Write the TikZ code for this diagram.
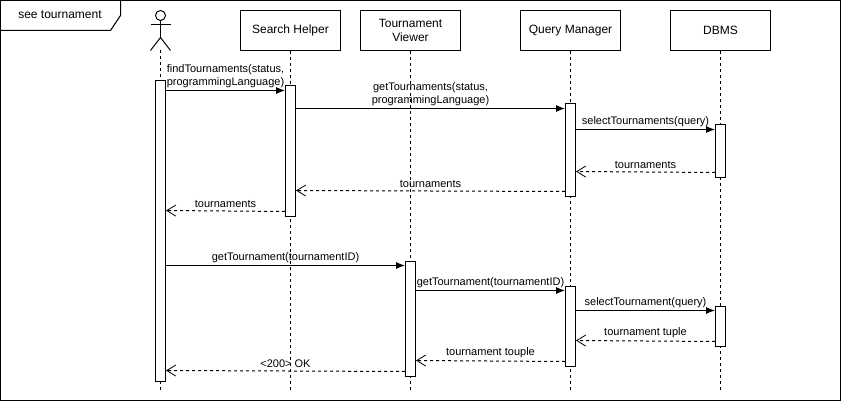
\documentclass[tikz,border=0pt]{standalone}
\usepackage{fontspec}
\setmainfont{Liberation Sans}
\usepackage{xcolor}
\usepackage{tikz}
\usetikzlibrary{arrows.meta}

\begin{document}
\begin{tikzpicture}[
    x=1pt, y=-1pt,
    line width=1pt,
    % Participant boxes along the top
    party/.style={
        draw=black,
        fill=white,
        minimum width=100pt,
        minimum height=40pt,
        inner sep=0pt,
        align=center,
        font=\fontsize{12}{14}\selectfont
    },
    % Activation bars sit on top of the lifelines
    bar/.style={
        draw=black,
        fill=white,
        minimum width=10pt,
        inner sep=0pt,
        anchor=north
    },
    lifeline/.style={dashed, dash pattern=on 3pt off 3pt},
    call/.style={-{Latex[length=9pt,width=7pt]}},
    reply/.style={lifeline, -{Straight Barb[length=9pt,width=11pt,line width=0.8pt]}},
    msg/.style={font=\fontsize{11}{13}\selectfont, align=center, inner sep=0pt, outer sep=0pt, above=3pt, midway}
]
    \useasboundingbox (0,0) rectangle (841,401);

    % --- OUTER FRAME AND TAG ---
    \draw (0.5,0.5) rectangle (840.5,400.5);
    \draw (0.5,30.5) -- (110.5,30.5) -- (120.5,15.5) -- (120.5,0.5);
    \node(tagLabel)[font=\fontsize{12}{14}\selectfont] at (60,15) {see tournament};

    % --- PARTICIPANTS ---
    \node(actorHead)[draw, circle, minimum size=10pt, inner sep=0pt] at (160.5,15.5) {};
    \coordinate(actorNeck) at (160.5,37.5);
    \coordinate(actorFoot) at (160.5,50.5);
    \draw (actorHead.south) -- (actorNeck);
    \draw (150.5,24.5) -- (170.5,24.5);
    \draw (150.5,50.5) -- (actorNeck) -- (170.5,50.5);

    \node(helper)[party] at (290.5,30.5) {Search Helper};
    \node(viewer)[party] at (410.5,30.5) {Tournament\\Viewer};
    \node(manager)[party] at (570.5,30.5) {Query Manager};
    \node(dbms)[party] at (720.5,30.5) {DBMS};

    % Lifelines run down to the foot of the frame
    \draw[lifeline] (actorFoot) -- (160.5,390);
    \foreach \p in {helper, viewer, manager, dbms} {
        \coordinate(\p-end) at ([yshift=-340pt]\p.south);
        \draw[lifeline] (\p.south) -- (\p-end);
    }

    % --- ACTIVATION BARS: name/x/top/height ---
    \foreach \n/\x/\t/\h in {
        user/160.5/80.5/300,
        helper1/290.5/85.5/130,
        manager1/570.5/103.5/92,
        dbms1/720.5/124.5/53,
        viewer1/410.5/260.5/115,
        manager2/570.5/285.5/80,
        dbms2/720.5/305.5/40
    } {
        \node(bar-\n)[bar, minimum height=\h pt] at (\x,\t) {};
    }

    % --- SEARCH ---
    \draw[call] ([yshift=-10pt]bar-user.north east) -- ([yshift=-5pt]bar-helper1.north west)
        node[msg] {findTournaments(status,\\programmingLanguage)};
    \draw[call] ([yshift=-23pt]bar-helper1.north east) -- ([yshift=-5pt]bar-manager1.north west)
        node[msg] {getTournaments(status,\\programmingLanguage)};
    \draw[call] ([yshift=-26pt]bar-manager1.north east) -- ([yshift=-5pt]bar-dbms1.north west)
        node[msg] {selectTournaments(query)};
    \draw[reply] ([yshift=6pt]bar-dbms1.south west) -- ([yshift=-68pt]bar-manager1.north east)
        node[msg] {tournaments};
    \draw[reply] ([yshift=5pt]bar-manager1.south west) -- ([yshift=-105pt]bar-helper1.north east)
        node[msg] {tournaments};
    \draw[reply] ([yshift=5pt]bar-helper1.south west) -- ([yshift=-130pt]bar-user.north east)
        node[msg] {tournaments};

    % --- DETAILS ---
    \draw[call] ([yshift=-185pt]bar-user.north east) -- ([yshift=-5pt]bar-viewer1.north west)
        node[msg] {getTournament(tournamentID)};
    \draw[call] ([yshift=-30pt]bar-viewer1.north east) -- ([yshift=-5pt]bar-manager2.north west)
        node[msg] {getTournament(tournamentID)};
    \draw[call] ([yshift=-25pt]bar-manager2.north east) -- ([yshift=-5pt]bar-dbms2.north west)
        node[msg] {selectTournament(query)};
    \draw[reply] ([yshift=5pt]bar-dbms2.south west) -- ([yshift=-55pt]bar-manager2.north east)
        node[msg] {tournament tuple};
    \draw[reply] ([yshift=5pt]bar-manager2.south west) -- ([yshift=-100pt]bar-viewer1.north east)
        node[msg] {tournament touple};
    \draw[reply] ([yshift=5pt]bar-viewer1.south west) -- ([yshift=-290pt]bar-user.north east)
        node[msg] {<200> OK};
\end{tikzpicture}
\end{document}
